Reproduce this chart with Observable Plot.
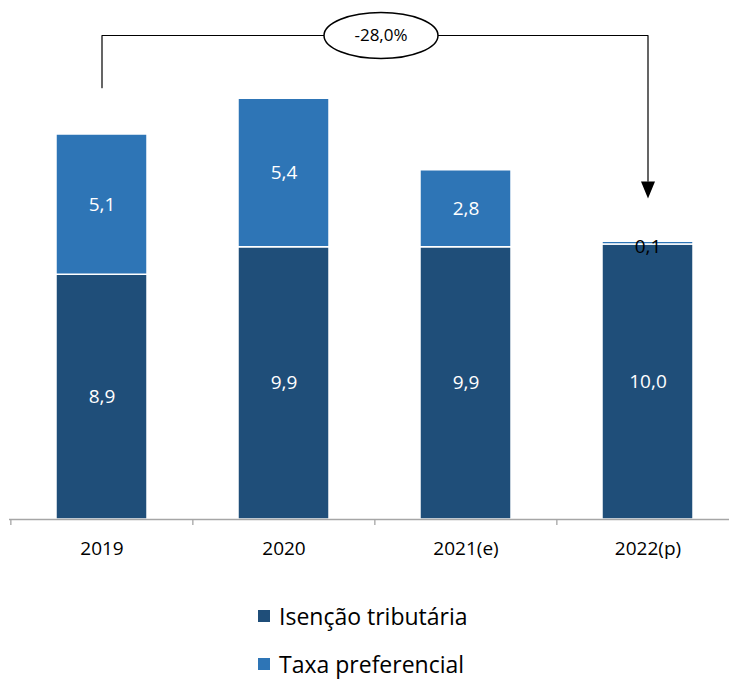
<!DOCTYPE html>
<html>
<head>
<meta charset="utf-8">
<script src="https://cdn.jsdelivr.net/npm/d3@7"></script>
<script src="https://cdn.jsdelivr.net/npm/@observablehq/plot@0.6"></script>
<style>
  body { margin: 0; background: #fff; }
  #wrap { position: relative; width: 729px; height: 684px; font-family: "Open Sans", sans-serif; overflow: hidden; }
  #legend { position: absolute; left: 258px; top: 601px; }
  .item { display: flex; align-items: center; height: 30px; margin-bottom: 18px; font-size: 23px; line-height: 30px; color: #000; }
  .sw { width: 12px; height: 12px; margin-right: 9px; }
</style>
</head>
<body>
<div id="wrap"><div id="chart"></div><div id="legend"></div></div>
<script>
const years = ["2019", "2020", "2021(e)", "2022(p)"];
const seriesNames = ["Isenção tributária", "Taxa preferencial"];
const seriesColors = ["#1f4e79", "#2e75b6"];
const isencao = [8.9, 9.9, 9.9, 10.0];
const taxa = [5.1, 5.4, 2.8, 0.1];
const changeLabel = "-28,0%";
// annotation path (data units)
const bracketLow = 15.7, bracketTop = 17.6, arrowEnd = 12.3, arrowHead = 11.98;

const fmt = v => v.toFixed(1).replace(".", ",");

const rows = [];
years.forEach((yr, i) => {
  rows.push({year: yr, series: seriesNames[0], v: isencao[i], y1: 0, y2: isencao[i]});
  rows.push({year: yr, series: seriesNames[1], v: taxa[i], y1: isencao[i], y2: isencao[i] + taxa[i]});
});
const bigRows = rows.filter(d => d.v >= 0.5);
const smallRows = rows.filter(d => d.v < 0.5);

const bracket = [
  {x: years[0], y: bracketLow},
  {x: years[0], y: bracketTop},
  {x: years[3], y: bracketTop},
  {x: years[3], y: arrowEnd}
];

const ellipseSymbol = {
  draw(ctx) {
    const rx = 57, ry = 23, k = 0.5523;
    ctx.moveTo(-rx, 0);
    ctx.bezierCurveTo(-rx, -ry * k, -rx * k, -ry, 0, -ry);
    ctx.bezierCurveTo(rx * k, -ry, rx, -ry * k, rx, 0);
    ctx.bezierCurveTo(rx, ry * k, rx * k, ry, 0, ry);
    ctx.bezierCurveTo(-rx * k, ry, -rx, ry * k, -rx, 0);
    ctx.closePath();
  }
};
const arrowSymbol = {
  draw(ctx) {
    ctx.moveTo(-7, -8.5);
    ctx.lineTo(7, -8.5);
    ctx.lineTo(0, 8.5);
    ctx.closePath();
  }
};

const step = (738.7 - 9.5) / 4;

const chart = Plot.plot({
  width: 729,
  height: 580,
  marginLeft: 9,
  marginRight: 0,
  marginTop: 0,
  marginBottom: 0,
  style: {fontFamily: "'Open Sans', sans-serif", background: "white"},
  x: {domain: years, range: [9.5, 738.7], paddingInner: 0.5, paddingOuter: 0.25, axis: null},
  y: {domain: [0, 16], range: [519, 79], axis: null},
  color: {domain: seriesNames, range: seriesColors},
  marks: [
    Plot.barY(rows, {x: "year", y1: "y1", y2: "y2", fill: "series", stroke: "white", strokeWidth: 1.5}),
    Plot.ruleY([0], {stroke: "#a6a6a6", strokeWidth: 1.3}),
    Plot.ruleX(years, {x: d => d, dx: -step / 2, y1: 0, y2: -0.22, stroke: "#a6a6a6", strokeWidth: 1.3}),
    Plot.text(years, {x: d => d, y: 0, dy: 29, text: d => d, fontSize: 19, fill: "black"}),
    Plot.text(bigRows, {x: "year", y: d => (d.y1 + d.y2) / 2, text: d => fmt(d.v), fill: "white", fontSize: 19}),
    Plot.text(smallRows, {x: "year", y: "y2", dy: 5, text: d => fmt(d.v), fill: "black", fontSize: 19}),
    Plot.line(bracket, {x: "x", y: "y", stroke: "black", strokeWidth: 1.2, curve: "linear"}),
    Plot.dot([{x: years[3], y: arrowHead}], {x: "x", y: "y", symbol: arrowSymbol, fill: "black", stroke: "none", r: 5}),
    Plot.dot([{x: years[1], y: bracketTop}], {x: "x", y: "y", dx: 97, symbol: ellipseSymbol, fill: "white", stroke: "black", strokeWidth: 1.5, r: 5}),
    Plot.text([changeLabel], {x: () => years[1], y: () => bracketTop, dx: 97, text: d => d, fontSize: 17, fill: "black"})
  ]
});
document.getElementById("chart").appendChild(chart);

const legend = document.getElementById("legend");
seriesNames.forEach((name, i) => {
  const item = document.createElement("div");
  item.className = "item";
  const sw = document.createElement("div");
  sw.className = "sw";
  sw.style.background = seriesColors[i];
  const label = document.createElement("span");
  label.textContent = name;
  item.appendChild(sw);
  item.appendChild(label);
  legend.appendChild(item);
});
</script>
</body>
</html>
